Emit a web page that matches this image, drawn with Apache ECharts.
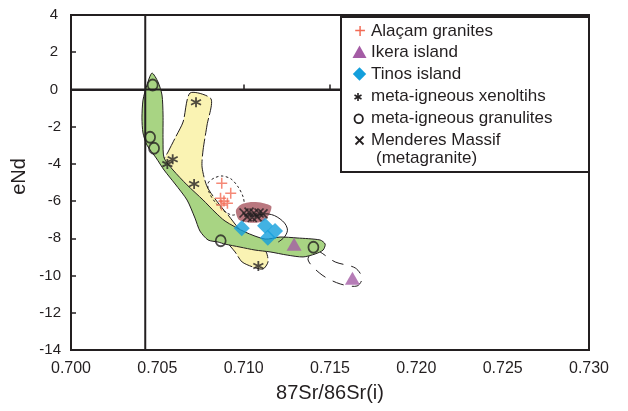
<!DOCTYPE html>
<html>
<head>
<meta charset="utf-8">
<script src="https://cdn.jsdelivr.net/npm/echarts@6/dist/echarts.min.js"></script>
<style>
html,body{margin:0;padding:0;background:#fff;}
#chart{width:628px;height:411px;}
</style>
</head>
<body>
<div id="chart"></div>
<script>
// ---- data (87Sr/86Sr(i), eNd) ----
const xTicks = [0.700, 0.705, 0.710, 0.715, 0.720, 0.725, 0.730];
const yTicks = [-14, -12, -10, -8, -6, -4, -2, 0, 2, 4];

const alacamGranites = [[0.70873,-5.04],[0.70925,-5.58],[0.70866,-5.85],[0.70906,-6.12],[0.70872,-6.21],[0.70886,-6.00]];
const ikeraIsland = [[0.71292,-8.32],[0.71630,-10.15]];
const tinosIsland = [[0.70989,-7.46],[0.71124,-7.32],[0.71182,-7.61],[0.71140,-7.97]];
const xenoliths = [[0.70724,-0.69],[0.70589,-3.75],[0.70558,-4.01],[0.70713,-5.08],[0.71085,-9.49]];
const granulites = [[0.70473,0.24],[0.70458,-2.57],[0.70481,-3.16],[0.70867,-8.13],[0.71404,-8.48]];
const menderes = [[0.71002,-6.64],[0.71031,-6.59],[0.71060,-6.64],[0.71089,-6.64],[0.71112,-6.69],[0.71020,-6.85],[0.71050,-6.88],[0.71078,-6.85]];

// reference lines
const bulkEarthSr = 0.7043;
const churNd = 0;

// fields (outlines in data units)
const granuliteField = [[0.70469,0.88],[0.70504,0.40],[0.70527,-0.30],[0.70533,-1.37],[0.70533,-2.72],[0.70539,-3.68],[0.70591,-4.33],[0.70672,-5.13],[0.70765,-5.94],[0.70834,-6.59],[0.70892,-7.07],[0.71008,-7.66],[0.71124,-8.04],[0.71211,-7.93],[0.71309,-7.98],[0.71443,-8.09],[0.71472,-8.31],[0.71460,-8.63],[0.71414,-8.84],[0.71344,-9.00],[0.71252,-8.90],[0.71153,-8.73],[0.71066,-8.63],[0.70979,-8.47],[0.70892,-8.31],[0.70852,-8.20],[0.70794,-8.09],[0.70747,-7.61],[0.70718,-6.91],[0.70672,-5.94],[0.70603,-5.08],[0.70539,-4.33],[0.70493,-3.68],[0.70440,-2.99],[0.70417,-2.34],[0.70411,-1.53],[0.70417,-0.57],[0.70440,0.24]];
const xenolithField = [[0.70690,-0.19],[0.70811,-0.51],[0.70788,-1.91],[0.70765,-3.25],[0.70759,-4.17],[0.70788,-5.22],[0.70852,-6.10],[0.70910,-6.75],[0.70979,-7.55],[0.71083,-8.36],[0.71130,-8.73],[0.71141,-9.27],[0.71112,-9.65],[0.71054,-9.54],[0.70991,-9.27],[0.70950,-8.73],[0.70892,-8.09],[0.70776,-6.75],[0.70661,-5.51],[0.70562,-4.44],[0.70533,-3.90],[0.70562,-3.36],[0.70603,-2.61],[0.70649,-1.75]];
const alacamField = [[0.70794,-5.03],[0.70829,-4.76],[0.70875,-4.65],[0.70927,-4.81],[0.70968,-5.24],[0.70997,-5.78],[0.71002,-6.26],[0.70973,-6.64],[0.70933,-6.75],[0.70886,-6.53],[0.70834,-6.05],[0.70799,-5.51]];
const menderesField = [[0.70955,-6.50],[0.70985,-6.18],[0.71049,-6.05],[0.71110,-6.10],[0.71160,-6.28],[0.71148,-6.72],[0.71110,-7.10],[0.71037,-7.16],[0.70972,-7.00]];
const tinosField = [[0.71066,-6.80],[0.71141,-6.69],[0.71211,-6.96],[0.71252,-7.45],[0.71240,-7.88],[0.71200,-8.20]];
const ikeraField = [[0.71414,-8.63],[0.71530,-9.27],[0.71646,-9.59],[0.71686,-10.13],[0.71657,-10.56],[0.71559,-10.45],[0.71454,-9.97],[0.71373,-9.16]];

const legendLabels = ['Alaçam granites','Ikera island','Tinos island','meta-igneous xenoltihs','meta-igneous granulites','Menderes Massif','(metagranite)'];
const yTitle = 'eNd';
const xTitle = '87Sr/86Sr(i)';

// ---- chart ----
const INK = '#231f20';
function shapeSeries(name, pts, type, style, smooth) {
  return {
    name: name, type: 'custom', coordinateSystem: 'cartesian2d', silent: true,
    data: pts, encode: {x: 0, y: 1},
    renderItem: function (params, api) {
      if (params.dataIndex !== 0) return null;
      return {type: type, shape: {points: pts.map(function (p) { return api.coord(p); }), smooth: smooth || 0}, style: style};
    }
  };
}

const chart = echarts.init(document.getElementById('chart'), null, {renderer: 'canvas'});
const FONT = 'Liberation Sans, Arial, Helvetica, sans-serif';

const lx = 341, ly = 17, lw = 248, lh = 155;
const textX = 371;
const rowY = [31.5, 52, 74, 96.5, 118.5, 140, 158.5];

const legendGraphics = [
  {type: 'rect', shape: {x: lx, y: ly, width: lw, height: lh}, style: {fill: '#fff', stroke: INK, lineWidth: 2}, z: 100},
  {type: 'text', x: 360, y: rowY[0] + 1, style: {text: '+', fill: '#f26b55', font: '20px ' + FONT, textAlign: 'center', textVerticalAlign: 'middle'}, z: 101},
  {type: 'polygon', shape: {points: [[352.5, 58], [366.5, 58], [359.5, 45.5]]}, style: {fill: '#a45ca5'}, z: 101},
  {type: 'polygon', shape: {points: [[359.5, 67.3], [366.2, 74], [359.5, 80.7], [352.8, 74]]}, style: {fill: '#139fdc'}, z: 101},
  {type: 'polyline', shape: {points: [[358, 93], [358, 101]]}, style: {stroke: INK, lineWidth: 1.6}, z: 101},
  {type: 'polyline', shape: {points: [[354.5, 95], [361.5, 99]]}, style: {stroke: INK, lineWidth: 1.6}, z: 101},
  {type: 'polyline', shape: {points: [[354.5, 99], [361.5, 95]]}, style: {stroke: INK, lineWidth: 1.6}, z: 101},
  {type: 'ellipse', shape: {cx: 358.7, cy: 118.8, rx: 4.2, ry: 4.4}, style: {fill: 'none', stroke: INK, lineWidth: 1.8}, z: 101},
  {type: 'polyline', shape: {points: [[355.5, 136.5], [363.5, 144.5]]}, style: {stroke: INK, lineWidth: 1.8}, z: 101},
  {type: 'polyline', shape: {points: [[363.5, 136.5], [355.5, 144.5]]}, style: {stroke: INK, lineWidth: 1.8}, z: 101},
  {type: 'text', x: 19.5, y: 176.5, rotation: Math.PI / 2, style: {text: yTitle, fill: INK, font: '20px ' + FONT, textAlign: 'center', textVerticalAlign: 'middle'}, z: 101}
];
legendLabels.forEach(function (t, i) {
  legendGraphics.push({type: 'text', x: i === 6 ? 376 : textX, y: rowY[i], style: {text: t, fill: INK, font: '17px ' + FONT, textAlign: 'left', textVerticalAlign: 'middle'}, z: 101});
});

const option = {
  backgroundColor: '#fff',
  animation: false,
  grid: {left: 71, right: 39, top: 15, bottom: 61, show: true, borderColor: INK, borderWidth: 2},
  xAxis: {
    type: 'value', min: xTicks[0], max: xTicks[xTicks.length - 1], interval: 0.005,
    name: xTitle, nameLocation: 'middle', nameGap: 33,
    nameTextStyle: {fontSize: 20, color: INK, fontFamily: FONT},
    axisLine: {show: true, lineStyle: {color: INK, width: 2}},
    axisTick: {show: true, inside: true, length: 5, lineStyle: {color: INK, width: 1.5}},
    axisLabel: {fontSize: 16, color: INK, fontFamily: FONT, margin: 11, formatter: function (v) { return v.toFixed(3); }},
    splitLine: {show: false}
  },
  yAxis: {
    type: 'value', min: yTicks[0], max: yTicks[yTicks.length - 1], interval: 2,
    axisLine: {show: true, lineStyle: {color: INK, width: 2}},
    axisTick: {show: true, inside: true, length: 5, lineStyle: {color: INK, width: 1.5}},
    axisLabel: {fontSize: 15, color: INK, fontFamily: FONT, margin: 10,
      formatter: function (v) { return v >= 0 ? '{p|' + v + '}' : String(v); },
      rich: {p: {fontSize: 15, color: INK, fontFamily: FONT, padding: [0, 3, 0, 0]}}},
    splitLine: {show: false}
  },
  graphic: legendGraphics,
  series: [
    shapeSeries('Ikera field', ikeraField, 'polygon', {fill: 'none', stroke: INK, lineWidth: 1, lineDash: [12, 8]}, 0.3),
    shapeSeries('xenolith field', xenolithField, 'polygon', {fill: '#faf3b3', stroke: INK, lineWidth: 1, lineDash: [18, 3]}, 0.25),
    shapeSeries('granulite field', granuliteField, 'polygon', {fill: '#a8d483', stroke: INK, lineWidth: 1}, 0.25),
    shapeSeries('Alaçam field', alacamField, 'polygon', {fill: 'none', stroke: INK, lineWidth: 1, lineDash: [2.5, 2.5]}, 0.3),
    shapeSeries('Menderes field', menderesField, 'polygon', {fill: '#b9777f', stroke: 'none'}, 0.25),
    shapeSeries('Tinos field', tinosField, 'polyline', {fill: 'none', stroke: INK, lineWidth: 1}, 0.4),
    {type: 'line', data: [[bulkEarthSr, yTicks[0]], [bulkEarthSr, yTicks[yTicks.length - 1]]], symbol: 'none', silent: true, lineStyle: {color: INK, width: 2}},
    {type: 'line', data: [[xTicks[0], churNd], [xTicks[xTicks.length - 1], churNd]], symbol: 'none', silent: true, lineStyle: {color: INK, width: 2}},
    {name: 'Alaçam granites', type: 'scatter', data: alacamGranites, symbol: 'path://M4.3,0H5.7V4.3H10V5.7H5.7V10H4.3V5.7H0V4.3H4.3Z', symbolSize: 11, itemStyle: {color: '#f26b55'}},
    {name: 'Menderes Massif', type: 'scatter', data: menderes, symbol: 'path://M0,0L10,10M10,0L0,10', symbolSize: 9, itemStyle: {color: 'rgba(0,0,0,0)', borderColor: INK, borderWidth: 1.7}},
    {name: 'Tinos island', type: 'scatter', data: tinosIsland, symbol: 'diamond', symbolSize: 16, itemStyle: {color: '#139fdc'}},
    {name: 'Ikera island', type: 'scatter', data: ikeraIsland, symbol: 'triangle', symbolSize: [15, 13], itemStyle: {color: '#a45ca5'}},
    {name: 'meta-igneous xenoltihs', type: 'scatter', data: xenoliths, symbol: 'path://M5,0V10M0.67,2.5L9.33,7.5M0.67,7.5L9.33,2.5', symbolSize: 10, itemStyle: {color: 'rgba(0,0,0,0)', borderColor: INK, borderWidth: 1.8}},
    {name: 'meta-igneous granulites', type: 'scatter', data: granulites, symbol: 'circle', symbolSize: [10, 11], itemStyle: {color: 'rgba(0,0,0,0)', borderColor: INK, borderWidth: 1.8}}
  ]
};
chart.setOption(option);
</script>
</body>
</html>
